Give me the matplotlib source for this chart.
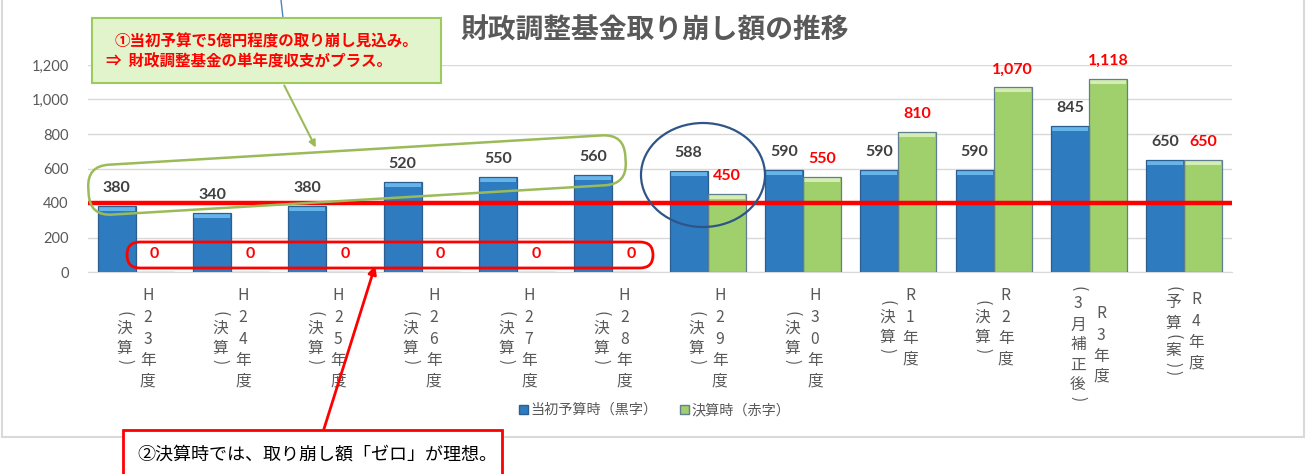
import numpy as np
import matplotlib
matplotlib.use("Agg")
import matplotlib.pyplot as plt
from matplotlib.patches import FancyBboxPatch, Ellipse, Rectangle, Patch, FancyArrowPatch
from matplotlib.lines import Line2D
from matplotlib.transforms import Affine2D

plt.rcParams['font.family'] = ['Noto Sans CJK JP', 'DejaVu Sans']

# ---- data ----
years = ["H23", "H24", "H25", "H26", "H27", "H28", "H29", "H30", "R1", "R2", "R3", "R4"]
notes = ["(決算)"] * 10 + ["(3月補正後)", "(予算(案))"]
budget = [380, 340, 380, 520, 550, 560, 588, 590, 590, 590, 845, 650]
settled = [0, 0, 0, 0, 0, 0, 450, 550, 810, 1070, 1118, 650]
yticks = [0, 200, 400, 600, 800, 1000, 1200]
ref_level = 400

title = "財政調整基金取り崩し額の推移"
legend_labels = ["当初予算時（黒字）", "決算時（赤字）"]
note1 = ["①当初予算で5億円程度の取り崩し見込み。", "⇒  財政調整基金の単年度収支がプラス。"]
note2 = "②決算時では、取り崩し額「ゼロ」が理想。"

BLUE, BLUE_TOP, BLUE_EDGE = "#2E7BC0", "#66B4EA", "#2C5F8F"
GREEN, GREEN_TOP, GREEN_EDGE = "#A0D06C", "#D3EDB2", "#5F7F8F"
GRAY = "#595959"

W, H = 1309, 474
fig = plt.figure(figsize=(W / 100, H / 100), dpi=100)
# pixel coords, origin top-left (for the drawn callouts)
px = Affine2D().scale(1 / 100, -1 / 100).translate(0, H / 100) + fig.dpi_scale_trans

ax = fig.add_axes([88 / W, 1 - 272 / H, 1144 / W, 207 / H])
x = np.arange(len(years))
w = 0.40
bevel = 29  # value units ~ 5 px

for vals, off, fc, top, ec in [(budget, -w / 2, BLUE, BLUE_TOP, BLUE_EDGE),
                               (settled, w / 2, GREEN, GREEN_TOP, GREEN_EDGE)]:
    v = np.array(vals, dtype=float)
    ax.bar(x + off, v, w, color=fc, linewidth=0, zorder=2)
    b = np.minimum(v, bevel)
    ax.bar(x + off, b, w * 0.94, bottom=v - b, color=top, linewidth=0, zorder=2.5)
    ax.bar(x + off, v, w, fill=False, edgecolor=ec, linewidth=0.9, zorder=3)

for xi, v in zip(x, budget):
    ax.annotate(f"{v:,}", (xi - w / 2, v), xytext=(0, 13), textcoords="offset points",
                ha="center", va="center", fontsize=11.5, fontweight="bold",
                color="#404040", family=["Lato", "DejaVu Sans"], zorder=5)
for xi, v in zip(x, settled):
    ax.annotate(f"{v:,}", (xi + w / 2, v), xytext=(0, 13), textcoords="offset points",
                ha="center", va="center", fontsize=11.5, fontweight="bold",
                color="#FF0000", family=["Lato", "DejaVu Sans"], zorder=5)

ax.axhline(ref_level, color="#FF0000", lw=3.2, zorder=4)

ax.set_xlim(-0.5, len(years) - 0.5)
ax.set_ylim(0, 1200)
ax.set_yticks(yticks)
ax.set_yticklabels([f"{t:,}" for t in yticks], family=["Lato", "DejaVu Sans"])
ax.tick_params(axis="y", length=0, pad=14, labelsize=10.5, labelcolor=GRAY)
ax.set_xticks([])
ax.yaxis.grid(True, color="#D9D9D9", lw=1)
ax.set_axisbelow(True)
for s in ["top", "right", "left"]:
    ax.spines[s].set_visible(False)
ax.spines["bottom"].set_color("#D9D9D9")


# ---- vertical category labels ----
def advance(ch):
    if ch in "()":
        return 8
    if ch.isascii():
        return 22
    return 20


def column(xc, dx_px, text, top_px):
    y = top_px
    for ch in text:
        a = advance(ch)
        yc = y + a / 2
        rot = -90 if ch in "()" else 0
        ax.annotate(ch, (xc, 0), xycoords=("data", "axes fraction"),
                    xytext=(dx_px * 0.72, -(13 + yc) * 0.72), textcoords="offset points",
                    ha="center", va="center", fontsize=11.3, color=GRAY,
                    rotation=rot, annotation_clip=False)
        y += a


for xi, yr, nt in zip(x, years, notes):
    col_year = yr + "年度"
    ly = sum(advance(c) for c in col_year)
    ln = sum(advance(c) for c in nt)
    m = max(ly, ln)
    column(xi, 12, col_year, (m - ly) / 2)
    column(xi, -11, nt, (m - ln) / 2)

# ---- title / legend ----
fig.text(655 / W, 1 - 30 / H, title, ha="center", va="center", fontsize=20,
         fontweight="bold", color=GRAY)
handles = [Patch(facecolor=BLUE, edgecolor=BLUE_EDGE), Patch(facecolor=GREEN, edgecolor=GREEN_EDGE)]
fig.legend(handles, legend_labels, loc="center", bbox_to_anchor=(655 / W, 1 - 410 / H),
           ncol=2, frameon=False, fontsize=10.2, handlelength=0.6, handleheight=0.6,
           handletextpad=0.2, columnspacing=1.6, labelcolor=GRAY)

# ---- chart frame ----
fig.add_artist(Rectangle((2, -10), 1302, 447, fill=False, edgecolor="#D9D9D9", lw=1.5,
                         transform=px, zorder=1))

# ---- callout 1 ----
fig.add_artist(Line2D([281, 283], [0, 18], transform=px, color="#4F81BD", lw=1, zorder=6))
fig.add_artist(Rectangle((92, 18), 349, 65, facecolor="#E2F4CB", edgecolor="#9BCB5C", lw=1.5,
                         transform=px, zorder=7))
fig.text(115, 42, note1[0], transform=px, ha="left", va="center", fontsize=11.2,
         fontweight="bold", color="#FF0000", zorder=8)
fig.text(106, 62, note1[1], transform=px, ha="left", va="center", fontsize=11.2,
         fontweight="bold", color="#FF0000", zorder=8)
fig.add_artist(FancyArrowPatch((283, 83), (317, 150), transform=px, arrowstyle="-|>",
                               mutation_scale=10, color="#9BBB59", lw=1.5, zorder=6))
cx, cy, L, h = 357, 175, 538, 50
fig.add_artist(FancyBboxPatch((cx - L / 2, cy - h / 2), L, h,
                              boxstyle="round,pad=0,rounding_size=22", fill=False,
                              edgecolor="#9BBB59", lw=1.8,
                              transform=Affine2D().rotate_deg_around(cx, cy, -3.4) + px,
                              zorder=6))
fig.add_artist(Ellipse((703, 175), 124, 104, fill=False, edgecolor="#2F5587", lw=1.6,
                       transform=px, zorder=6))

# ---- callout 2 ----
fig.add_artist(FancyBboxPatch((127, 242), 526, 26, boxstyle="round,pad=0,rounding_size=13",
                              fill=False, edgecolor="#FF0000", lw=2, transform=px, zorder=6))
fig.add_artist(FancyArrowPatch((323, 432), (376, 263), transform=px, arrowstyle="-|>",
                               mutation_scale=12, color="#FF0000", lw=2, zorder=6))
fig.add_artist(Rectangle((123, 430), 379, 60, facecolor="white", edgecolor="#FF0000", lw=2,
                         transform=px, zorder=7))
fig.text(137, 455, note2, transform=px, ha="left", va="center", fontsize=13,
         color="black", zorder=8)

fig.savefig("out.png", dpi=100)
